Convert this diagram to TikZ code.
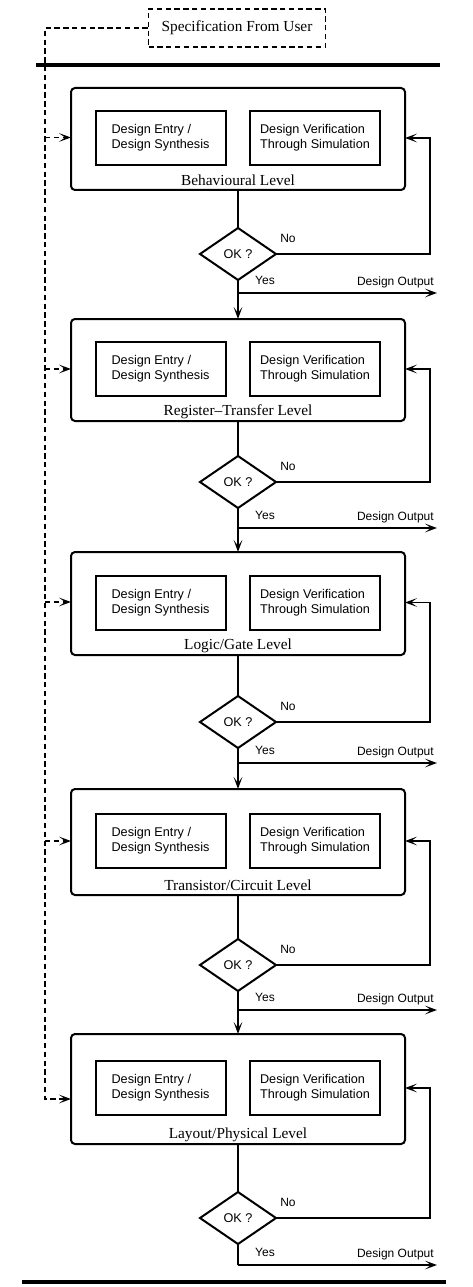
\documentclass[tikz,border=0pt]{standalone}
\usepackage{fontspec}
\setmainfont{Liberation Serif}
\setsansfont{Liberation Sans}
\usetikzlibrary{arrows.meta,shapes.geometric}
\begin{document}
\begin{tikzpicture}[x=0.75pt,y=-0.75pt,
  lvlbox/.style={draw, line width=1.5pt, rounded corners=3pt, minimum width=250.5pt, inner sep=0pt, outer sep=0pt},
  subbox/.style={draw, line width=1.5pt, minimum width=97.5pt, minimum height=40.5pt, align=left, inner sep=0pt, outer sep=0pt,
    font=\sffamily\fontsize{9.5pt}{11.3pt}\selectfont},
  okdia/.style={diamond, draw, line width=1.5pt, minimum width=57pt, minimum height=39pt, inner sep=0pt, outer sep=0pt,
    font=\sffamily\fontsize{9.5pt}{10pt}\selectfont},
  lvllabel/.style={inner sep=0pt, font=\fontsize{11.5pt}{13pt}\selectfont},
  smalllabel/.style={inner sep=0pt, font=\sffamily\fontsize{9pt}{10pt}\selectfont},
  conn/.style={line width=1.4pt},
  tip/.style={-{Stealth[length=9pt,width=6.5pt,inset=4.5pt]}},
  dashline/.style={line width=1.2pt, dash pattern=on 4pt off 2.6pt}
]
\useasboundingbox (0,0) rectangle (472,1287);

% specification box and rules
\node[draw, dashline, minimum width=132.75pt, minimum height=28.5pt, inner sep=0pt,
      font=\fontsize{11.5pt}{13pt}\selectfont] (spec) at (237,28) {Specification From User};
\coordinate (ruleA) at (36,65);
\coordinate (ruleB) at (440,65);
\draw[line width=2.4pt] (ruleA) -- (ruleB);
\coordinate (ruleC) at (22,1282);
\coordinate (ruleD) at (446,1282);
\draw[line width=2.4pt] (ruleC) -- (ruleD);

\foreach \i/\yT/\yB/\yD/\yO/\yI/\lev in {
  1/88/190/254/293/137.5/{Behavioural Level},
  2/319/421/482/528/369/{Register--Transfer Level},
  3/552/655/722/763/602/{Logic/Gate Level},
  4/789/895/965/1010/841/{Transistor/Circuit Level},
  5/1034/1144/1218/1265/1099/{Layout/Physical Level}}{
  \pgfmathsetmacro\hgt{(\yB-\yT)*0.75}
  \pgfmathsetmacro\yC{(\yT+\yB)/2}
  \pgfmathsetmacro\yM{(\yT+\yB)/2-1}
  \node[lvlbox, minimum height=\hgt pt] (box\i) at (238,\yC) {};
  \node[subbox] (entry\i) at (160.5,\yM) {Design Entry /\\Design Synthesis};
  \node[subbox] (verif\i) at (315,\yM) {Design Verification\\Through Simulation};
  \node[lvllabel] (lab\i) at (238,{\yB-9.5}) {\lev};
  \node[okdia] (ok\i) at (238,\yD) {OK ?};
  \draw[conn] (box\i.south) -- (ok\i.north);
  \coordinate (fb\i) at (430,\yM);
  \draw[conn,tip] (ok\i.east) -| (fb\i) -- (box\i.east |- fb\i);
  \coordinate (yes\i) at (238,\yO);
  \draw[conn] (ok\i.south) -- (yes\i);
  \coordinate (out\i) at (437,\yO);
  \draw[conn,tip] (yes\i) -- (out\i);
  \node[smalllabel] (nolab\i) at (288,{\yD-16}) {No};
  \node[smalllabel] (yeslab\i) at (265,{\yO-13}) {Yes};
  \node[smalllabel, anchor=south east] (outlab\i) at (434,{\yO-5}) {Design Output};
  \coordinate (in\i) at (45,\yI);
}

% downward arrows between levels
\draw[conn,tip] (yes1) -- (box2.north);
\draw[conn,tip] (yes2) -- (box3.north);
\draw[conn,tip] (yes3) -- (box4.north);
\draw[conn,tip] (yes4) -- (box5.north);

% dashed specification feed
\draw[dashline,tip] (spec.west) -| (in5) -- (box5.west |- in5);
\draw[dashline,tip] (in1) -- (box1.west |- in1);
\draw[dashline,tip] (in2) -- (box2.west |- in2);
\draw[dashline,tip] (in3) -- (box3.west |- in3);
\draw[dashline,tip] (in4) -- (box4.west |- in4);
\end{tikzpicture}
\end{document}
